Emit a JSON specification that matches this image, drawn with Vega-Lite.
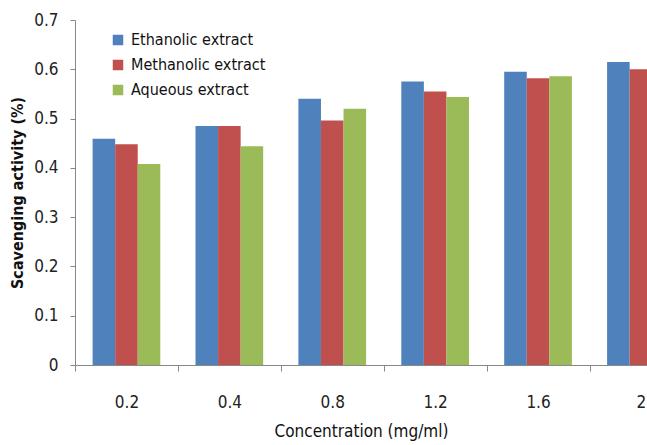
{
  "$schema": "https://vega.github.io/schema/vega-lite/v6.json",
  "autosize": {"type": "none"},
  "width": 572,
  "height": 345,
  "padding": {"left": 75, "top": 20, "right": 0, "bottom": 80},
  "background": "white",
  "config": {
    "view": {"stroke": null},
    "font": "DejaVu Sans Condensed, Open Sans",
    "axis": {"grid": false, "domainColor": "#888888", "tickColor": "#888888", "labelColor": "#222222", "titleColor": "#111111", "labelFont": "DejaVu Sans Condensed, Open Sans", "titleFont": "DejaVu Sans Condensed, Open Sans"},
    "legend": {"labelFont": "DejaVu Sans Condensed, Open Sans"}
  },
  "data": {
    "values": [
      {"conc": "0.2", "extract": "Ethanolic extract", "value": 0.459},
      {"conc": "0.2", "extract": "Methanolic extract", "value": 0.448},
      {"conc": "0.2", "extract": "Aqueous extract", "value": 0.408},
      {"conc": "0.4", "extract": "Ethanolic extract", "value": 0.485},
      {"conc": "0.4", "extract": "Methanolic extract", "value": 0.485},
      {"conc": "0.4", "extract": "Aqueous extract", "value": 0.444},
      {"conc": "0.8", "extract": "Ethanolic extract", "value": 0.540},
      {"conc": "0.8", "extract": "Methanolic extract", "value": 0.496},
      {"conc": "0.8", "extract": "Aqueous extract", "value": 0.520},
      {"conc": "1.2", "extract": "Ethanolic extract", "value": 0.575},
      {"conc": "1.2", "extract": "Methanolic extract", "value": 0.555},
      {"conc": "1.2", "extract": "Aqueous extract", "value": 0.544},
      {"conc": "1.6", "extract": "Ethanolic extract", "value": 0.595},
      {"conc": "1.6", "extract": "Methanolic extract", "value": 0.582},
      {"conc": "1.6", "extract": "Aqueous extract", "value": 0.586},
      {"conc": "2", "extract": "Ethanolic extract", "value": 0.615},
      {"conc": "2", "extract": "Methanolic extract", "value": 0.600}
    ]
  },
  "mark": {"type": "bar", "clip": true},
  "encoding": {
    "x": {
      "field": "conc",
      "type": "nominal",
      "sort": ["0.2", "0.4", "0.8", "1.2", "1.6", "2"],
      "scale": {"domain": ["0.2", "0.4", "0.8", "1.2", "1.6", "2"], "range": [0, 617.4], "paddingInner": 0, "paddingOuter": 0},
      "axis": {"title": "Concentration (mg/ml)", "labelAngle": 0, "tickBand": "extent", "tickSize": 6, "labelPadding": 23, "labelFontSize": 17, "titleFontSize": 17, "titleFontWeight": "normal", "titlePadding": 13, "titleX": 286, "titleAnchor": "middle"}
    },
    "xOffset": {
      "field": "extract",
      "type": "nominal",
      "sort": ["Ethanolic extract", "Methanolic extract", "Aqueous extract"],
      "scale": {"domain": ["Ethanolic extract", "Methanolic extract", "Aqueous extract"], "paddingInner": 0, "paddingOuter": 0.78}
    },
    "y": {
      "field": "value",
      "type": "quantitative",
      "scale": {"domain": [0, 0.7], "nice": false},
      "axis": {"title": "Scavenging activity (%)", "values": [0, 0.1, 0.2, 0.3, 0.4, 0.5, 0.6, 0.7], "format": "~g", "tickSize": 5, "labelPadding": 12, "labelFontSize": 17, "titleFontSize": 16, "titleFontWeight": "bold", "titlePadding": 8}
    },
    "color": {
      "field": "extract",
      "type": "nominal",
      "sort": ["Ethanolic extract", "Methanolic extract", "Aqueous extract"],
      "scale": {"domain": ["Ethanolic extract", "Methanolic extract", "Aqueous extract"], "range": ["#4F81BD", "#C0504D", "#9BBB59"]},
      "legend": {"title": null, "orient": "none", "legendX": 35, "legendY": 12, "symbolType": "square", "symbolSize": 110, "symbolStrokeWidth": 0, "labelFontSize": 16, "labelColor": "#111111", "rowPadding": 9, "labelOffset": 5}
    }
  }
}
